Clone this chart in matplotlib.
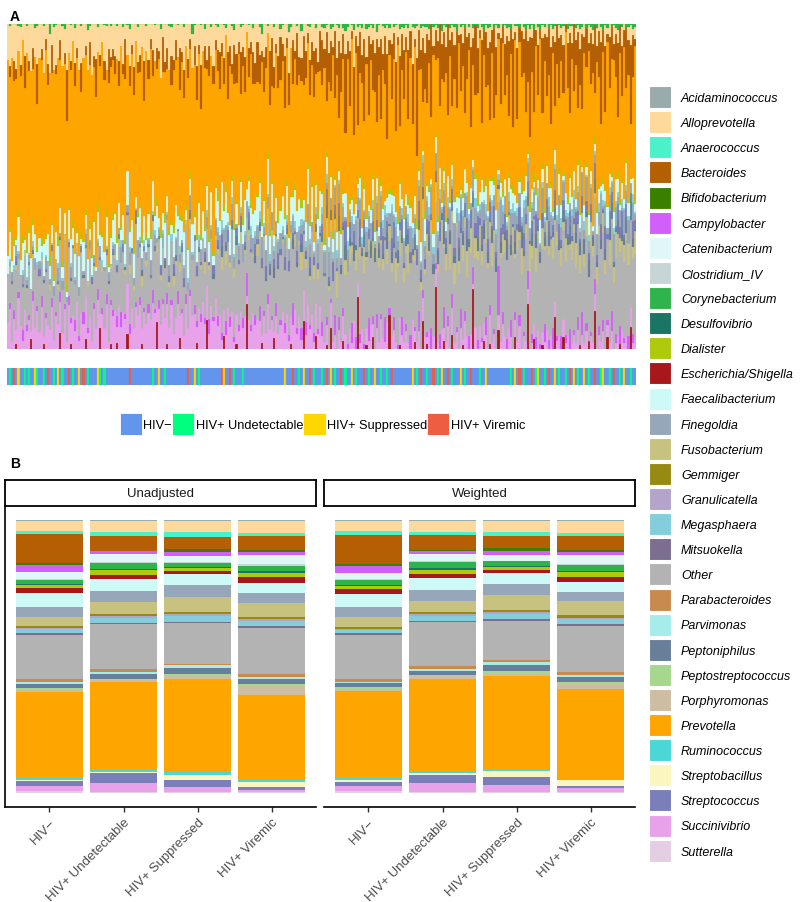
import numpy as np
import matplotlib
matplotlib.use("Agg")
import matplotlib.pyplot as plt
from matplotlib.patches import Patch

plt.rcParams['font.family'] = ['Liberation Sans', 'DejaVu Sans']

# genera, in legend order (= top-to-bottom stacking in panel B)
genera = ["Acidaminococcus", "Alloprevotella", "Anaerococcus", "Bacteroides", "Bifidobacterium",
          "Campylobacter", "Catenibacterium", "Clostridium_IV", "Corynebacterium", "Desulfovibrio",
          "Dialister", "Escherichia/Shigella", "Faecalibacterium", "Finegoldia", "Fusobacterium",
          "Gemmiger", "Granulicatella", "Megasphaera", "Mitsuokella", "Other",
          "Parabacteroides", "Parvimonas", "Peptoniphilus", "Peptostreptococcus", "Porphyromonas",
          "Prevotella", "Ruminococcus", "Streptobacillus", "Streptococcus", "Succinivibrio",
          "Sutterella"]
genus_colors = ["#9AABAB", "#FDD99B", "#4BF2C9", "#B45F04", "#3B7F00",
                "#D35FFB", "#E1F7F7", "#C6D6D6", "#2FB34B", "#1B7565",
                "#AFC90B", "#A7181B", "#CDFAF6", "#96A7B9", "#C8C280",
                "#968A12", "#B4A4CB", "#84CEDC", "#7C6E8E", "#B3B3B3",
                "#C88B4D", "#A6ECEA", "#687F99", "#A5D78C", "#CDBDA2",
                "#FFA500", "#4AD7D6", "#FBF6BF", "#7A7EBB", "#E8A2EA",
                "#E3CEE4"]
color_of = dict(zip(genera, genus_colors))

# ---- panel A: per-sample abundances, one character per sample (base 36 units)
coryne_a = ("0100012001" "0003100100" "5021001300" "1020010041" "0002001101"
            "0010020130" "0020001000" "1003000120" "0100200061" "0010300201"
            "2001300140" "0210010300" "2600100200" "3100520010" "4001200300"
            "2310420130" "3520140213" "0421306102" "3140210423" "1302410322"
            "2402130512" "0312402130" "2041302513" "2031402132" "4021302413"
            "1302412031" "4201320412" "0314203124" "1302413021" "3412032143")
allo_a = ("4545635243" "5634543625" "4356425364" "5243654352" "6453425634"
          "3546352453" "6245363524" "5346253645" "2534635243" "5364253462"
          "3425143524" "2435132453" "4253142534" "1342532415" "3241524351"
          "2314231524" "1324152314" "2513241325" "1423152413" "2315241324"
          "1203120213" "0213021302" "1320312013" "2103120312" "0213012031"
          "2013021203" "1302130213" "0213120312" "0312031203" "1203102312")
bact_a = ("0102101030" "1020401012" "0301020150" "1021030102" "0140102031"
          "1203014021" "3012050213" "0210412031" "2041302102" "3150213021"
          "2413052143" "1524031425" "3142065213" "4251304152" "2631425314"
          "5283617294" "3826172953" "8172649382" "5926371845" "2736195284"
          "7391528463" "9284716395" "2847519364" "8395172648" "3917254869"
          "4826193758" "2947361582" "7394825163" "9258371642" "5836274951")
prev_a = ("8798879978" "8979788897" "7899879788" "9878978897" "8797889788"
          "7887978679" "8768978796" "8697876878" "7968789678" "6879768797"
          "6757868576" "7586756867" "5768675786" "6857685767" "5786758676"
          "69385a4937" "8395a49368" "3a49573839" "639584a376" "9485a36937"
          "483a693758" "39374a5836" "93746a3857" "3836a49573" "83a4967353"
          "7395a38463" "937485a639" "4837396a58" "396384a579" "638594736a")
dial_a = ("1203120312" "2031203120" "3120312031" "0312031203" "1203120312"
          "2130213021" "3021302130" "1302130213" "0213021302" "2130213021"
          "3102310231" "0231023102" "2310231023" "1023102310" "3102310231"
          "1320132013" "2013201320" "3201320132" "0132013201" "1320132013"
          "2301230123" "0123012301" "3012301230" "1230123012" "2301230123"
          "0321032103" "2103210321" "1032103210" "3210321032" "0321032103")
faec_a = ("3524163524" "4635241635" "2416352416" "5342615342" "3615243615"
          "4736254736" "5247362547" "3625473625" "6354726354" "4726354726"
          "5364726354" "3647253647" "6253746253" "4736253746" "2547362547"
          "3142531425" "2531423152" "4213524213" "1352413524" "3241532415"
          "2413524132" "4135241352" "1324135241" "3524132413" "5241352413"
          "3142531425" "1425314253" "4253142531" "2531425314" "5314253142")
mega_a = ("0102010201" "1020102010" "0100201001" "2010010200" "1001020100"
          "1020301020" "0102030102" "2010201030" "1030102010" "0201030201"
          "2031020310" "1302013021" "3020130201" "0213021302" "2130201320"
          "3142031420" "2041302413" "1320413024" "4203142031" "0314203142"
          "2413024130" "4130241302" "3024130241" "1302413024" "2413024130"
          "3204132041" "1320413204" "4132041320" "2041320413" "3204132041")
fine_a = ("0120310201" "2013020130" "1020312010" "3010201302" "0201301020"
          "1302410230" "2041302140" "3120401302" "4021302410" "1240130204"
          "2413512431" "3152413524" "1524315243" "4251324153" "2315421352"
          "3627415362" "5163728461" "2736415273" "6148273516" "4273615284"
          "5273846152" "3718264537" "6284137526" "1735284613" "7362518473"
          "4617283546" "2839461527" "5162738451" "3748162539" "6251847362")
strep_a = ("0010200100" "1000020010" "0200100002" "0100020100" "2000100200"
           "1020030102" "0301020010" "2003010203" "0102300102" "3010201030"
           "2030140203" "1402031042" "0314020314" "2041302140" "3120403120"
           "4162073150" "2806140372" "5031704268" "1405820361" "7240158304"
           "3720516084" "2173046258" "0614837205" "6182054731" "4052817360"
           "5183062741" "3706248150" "2841605371" "7305182640" "1648250374")
pepto_a = ("0000100001" "0010000100" "0000010000" "1000001000" "0100000010"
           "1002001000" "0100200102" "0010020001" "2001000200" "0200100020"
           "1030200103" "0201030020" "3001020301" "0102003010" "2010300201"
           "3051402063" "1503062041" "4206150302" "0614205031" "5302604150"
           "2604150372" "0513062405" "3071502604" "1605240370" "4150372061"
           "5062403150" "2704150362" "0415062703" "6203140572" "1504260731")
fuso_a = ("0100100010" "0010001000" "1000100100" "0001000010" "0100010001"
          "0102001020" "1000201002" "0201000102" "1020010200" "0010201001"
          "1020301020" "0301020103" "2010302010" "0103020301" "3020103020"
          "2051302640" "1304205130" "5120406213" "0342051603" "2601304251"
          "4130620514" "0625130426" "1504263051" "3620415306" "0514260315"
          "3062051420" "5130426015" "2604135062" "1420530614" "6031425036")
other_a = ("4354635453" "5436453546" "3546354645" "4635463546" "5364536453"
           "5647564756" "4756475647" "6574657465" "5746574657" "4657465746"
           "6758675867" "5867586758" "7685768576" "6857685768" "5768576857"
           "8796879687" "9687968798" "7968796879" "8697869786" "9786978697"
           "8a97a89a78" "9a879a8a97" "a8979a8a89" "7a98a97a89" "8a79a89a97"
           "9a8b9a8b9a" "8b9a8b9a8b" "a9b8a9b8a9" "b8a9b8a9b8" "9b8a9b8a9b")
campy_a = ("0102010201" "1020102010" "0201020102" "1020102010" "0102010201"
           "1020301020" "0102010203" "1020102010" "0301020102" "1020103010"
           "2010302010" "1020401020" "3010201030" "1020104010" "2030102010"
           "3020104030" "2010503020" "1040203010" "5020301040" "2030105020"
           "1040203050" "2030104020" "3050201040" "2010f03020" "4020301050"
           "2030104020" "5010302040" "1030502010" "4020301050" "2040103020")
succ_a = ("3514263152" "4163525143" "2615342516" "3426153624" "1536243615"
          "4627354726" "3547263547" "5263745362" "4735263745" "2647352647"
          "3514263514" "2635142635" "4152634152" "3625143625" "1526341526"
          "2130412031" "4203140213" "0314203142" "1402310421" "3104213042"
          "1302410321" "3041203142" "0213041320" "4120314203" "2031402130"
          "1203021302" "0312031201" "2130213021" "3021302130" "1203120312")
esch_a = ("0000100000" "0200000100" "0000030000" "1000000200" "0000400001"
          "0010000300" "0000100000" "0500001000" "0020000000" "1000060000"
          "0003000001" "0000800000" "0100000200" "0000010000" "0700000300"
          "0010500000" "2000000c00" "0100300000" "0090000100" "0000200070"
          "1000k00020" "0030000100" "00i0000200" "1000600000" "00300000d0"
          "0200010000" "0900030000" "0001000200" "a000003000" "0010000500")

# HIV status of each sample (n = HIV-, u = undetectable, s = suppressed, v = viremic)
status_a = ("nunvnsnnun" "unnsunnunv" "nnunsnunnv" "nunnsnvnun" "nnnsununnn"
            "nnnnnnnnvn" "nnnnnnnnnu" "nnsnnunnnn" "nnnnnnvnns" "nunnnnnnnn"
            "nnvsnnvnun" "nnunnnnnnn" "nnnnnnnnnn" "nnsnnnvnnu" "nsnnvnunnn"
            "unvnsnunnv" "nunnsnunnn" "vnunnsnnun" "nunvnnnnnn" "nnnsnunvnn"
            "unnvnunsnn" "vnunnnsnun" "nvnnnunnsn" "nnnnnnnnnn" "unsnvnunnn"
            "vnusnnunvn" "nsnunnunvn" "snunnsnunn" "vnnusnnunv" "nnunsnnunn")
status_names = ["HIV\u2212", "HIV+ Undetectable", "HIV+ Suppressed", "HIV+ Viremic"]
status_codes = ["n", "u", "s", "v"]
status_colors = ["#6495ED", "#00FF7F", "#FFD700", "#EE5C42"]

# bottom -> top stacking for panel A, with unit size per character
panel_a = [("Escherichia/Shigella", esch_a, 0.02), ("Succinivibrio", succ_a, 0.03),
           ("Campylobacter", campy_a, 0.02), ("Other", other_a, 0.04),
           ("Fusobacterium", fuso_a, 0.02), ("Peptoniphilus", pepto_a, 0.012),
           ("Streptococcus", strep_a, 0.012), ("Finegoldia", fine_a, 0.015),
           ("Megasphaera", mega_a, 0.01), ("Faecalibacterium", faec_a, 0.02),
           ("Dialister", dial_a, 0.01), ("Prevotella", prev_a, 0.08),
           ("Bacteroides", bact_a, 0.04), ("Alloprevotella", allo_a, 0.03),
           ("Corynebacterium", coryne_a, 0.006)]

# ---- panel B: mean relative abundance (%) per group, legend order
unadj_neg = [0.5, 3.6, 1.2, 10.4, 0.7, 2.7, 2.4, 0.4, 1.5, 0.4, 1.2, 1.7, 5.1, 3.4, 3.6, 0.7,
             0.4, 1.3, 0.7, 16.0, 1.2, 0.5, 1.5, 0.5, 1.0, 31.0, 0.85, 0.7, 1.7, 1.9, 0.7]
unadj_und = [0.5, 4.1, 1.2, 5.5, 0.3, 1.0, 2.9, 0.3, 2.1, 0.6, 1.6, 1.5, 4.4, 4.1, 4.5, 0.7,
             0.7, 1.7, 0.5, 16.5, 1.0, 0.6, 1.8, 0.4, 0.85, 32.0, 0.85, 0.5, 3.4, 3.4, 0.5]
unadj_sup = [0.6, 3.8, 1.8, 4.5, 1.0, 1.7, 1.9, 0.3, 1.6, 0.4, 1.2, 1.1, 4.0, 4.1, 5.8, 0.7,
             0.7, 1.9, 0.5, 14.8, 0.7, 1.0, 2.2, 0.5, 1.2, 34.0, 1.2, 1.7, 2.4, 1.9, 0.5]
unadj_vir = [0.5, 4.4, 1.1, 5.1, 0.7, 1.1, 3.4, 0.4, 2.1, 0.7, 1.5, 2.2, 3.4, 3.6, 5.1, 1.0,
             0.5, 1.9, 0.7, 16.7, 1.2, 0.7, 1.9, 0.7, 3.2, 31.0, 0.6, 1.8, 1.3, 0.7, 0.4]
weight_neg = [0.5, 3.7, 1.2, 10.6, 0.7, 2.6, 2.4, 0.4, 1.5, 0.4, 1.2, 1.7, 5.0, 3.4, 3.6, 0.7,
              0.4, 1.3, 0.7, 15.8, 1.2, 0.5, 1.5, 0.5, 1.0, 31.2, 0.85, 0.7, 1.7, 1.9, 0.7]
weight_und = [0.5, 4.0, 1.2, 5.3, 0.3, 1.0, 2.8, 0.3, 2.2, 0.6, 1.5, 1.4, 4.3, 4.0, 4.3, 0.7,
              0.7, 1.6, 0.5, 16.0, 1.0, 0.6, 1.7, 0.4, 0.8, 33.5, 0.8, 0.8, 2.8, 3.3, 0.5]
weight_sup = [0.6, 3.7, 1.7, 4.4, 1.0, 1.6, 1.9, 0.3, 1.6, 0.4, 1.2, 1.1, 4.0, 4.0, 5.5, 0.7,
              0.7, 1.9, 0.5, 14.5, 0.7, 1.0, 2.2, 0.5, 1.2, 34.0, 0.8, 2.2, 2.9, 2.4, 0.5]
weight_vir = [0.5, 4.4, 1.1, 5.0, 0.7, 1.1, 3.3, 0.4, 2.0, 0.7, 1.5, 2.1, 3.4, 3.5, 5.0, 1.0,
              0.5, 1.9, 0.7, 16.5, 1.2, 0.7, 1.9, 0.7, 2.0, 32.5, 0.6, 1.9, 0.7, 1.7, 0.4]


def decode(s, unit):
    return np.array([int(c, 36) for c in s], dtype=float) * unit


fig = plt.figure(figsize=(8, 9.03), dpi=100)

# ---- panel A
n_samp = min(len(s) for _, s, _ in panel_a)
mat = np.array([decode(s[:n_samp], u) for _, s, u in panel_a])
mat = mat / mat.sum(axis=0)
xs = np.arange(n_samp)

axA = fig.add_axes([0.00875, 0.6124, 0.786, 0.3599])
bottom = np.zeros(n_samp)
for (name, _, _), row in zip(panel_a, mat):
    axA.bar(xs, row, bottom=bottom, width=1.0, color=color_of[name],
            edgecolor=color_of[name], linewidth=0.15)
    bottom += row
axA.set_xlim(-0.5, n_samp - 0.5)
axA.set_ylim(0, 1)
axA.axis("off")

# status strip
axS = fig.add_axes([0.00875, 0.5725, 0.786, 0.0188])
st_col = dict(zip(status_codes, status_colors))
axS.bar(xs, np.ones(n_samp), width=1.0,
        color=[st_col[c] for c in status_a[:n_samp]],
        edgecolor=[st_col[c] for c in status_a[:n_samp]], linewidth=0.15)
axS.set_xlim(-0.5, n_samp - 0.5)
axS.set_ylim(0, 1)
axS.axis("off")

fig.legend([Patch(facecolor=c, edgecolor="white", linewidth=0.6) for c in status_colors],
           status_names, loc="center", bbox_to_anchor=(0.403, 0.5295), ncol=4,
           frameon=False, fontsize=9.2, handlelength=1.75, handleheight=2.25,
           handletextpad=0.1, columnspacing=0.0, borderpad=0, borderaxespad=0)

fig.text(0.0125, 0.989, "A", fontsize=10, fontweight="bold", va="top")
fig.text(0.0125, 0.494, "B", fontsize=10, fontweight="bold", va="top")

# ---- panel B
groups = status_names
facets = [("Unadjusted", [unadj_neg, unadj_und, unadj_sup, unadj_vir], 0.00625),
          ("Weighted", [weight_neg, weight_und, weight_sup, weight_vir], 0.405)]
gx = np.arange(1, len(groups) + 1)
for k, (title, vals, left) in enumerate(facets):
    ax = fig.add_axes([left, 0.1052, 0.389, 0.3333])
    data = np.array(vals, dtype=float).T  # genus x group
    data = data / data.sum(axis=0)
    bottom = np.zeros(len(groups))
    for i in range(len(genera) - 1, -1, -1):
        ax.bar(gx, data[i], bottom=bottom, width=0.9, color=genus_colors[i], linewidth=0)
        bottom += data[i]
    ax.set_xlim(0.4, 4.6)
    ax.set_ylim(-0.05, 1.05)
    ax.set_xticks(gx)
    ax.set_xticklabels(groups, rotation=45, ha="right", rotation_mode="anchor",
                       fontsize=9.5, color="#4D4D4D")
    ax.tick_params(axis="x", length=3.5, width=1, color="#333333", pad=3)
    ax.tick_params(axis="y", left=False, labelleft=False)
    for sp in ["top", "right"]:
        ax.spines[sp].set_visible(False)
    ax.spines["bottom"].set_linewidth(1.2)
    if k == 0:
        ax.spines["left"].set_linewidth(1.2)
    else:
        ax.spines["left"].set_visible(False)

    # facet strip
    st = fig.add_axes([left, 0.4385, 0.389, 0.0288])
    st.set_xticks([])
    st.set_yticks([])
    for sp in st.spines.values():
        sp.set_linewidth(1.3)
        sp.set_color("black")
    st.text(0.5, 0.5, title, ha="center", va="center", fontsize=9.5, color="#1A1A1A",
            transform=st.transAxes)

# genus legend
fig.legend([Patch(facecolor=c, edgecolor="white", linewidth=0.8) for c in genus_colors],
           genera, loc="upper left", bbox_to_anchor=(0.8113, 0.9035), frameon=False,
           prop={"style": "italic", "size": 9}, handlelength=1.76, handleheight=2.33,
           labelspacing=0.25, handletextpad=0.8, borderpad=0, borderaxespad=0)

fig.savefig("out.png", dpi=100)
